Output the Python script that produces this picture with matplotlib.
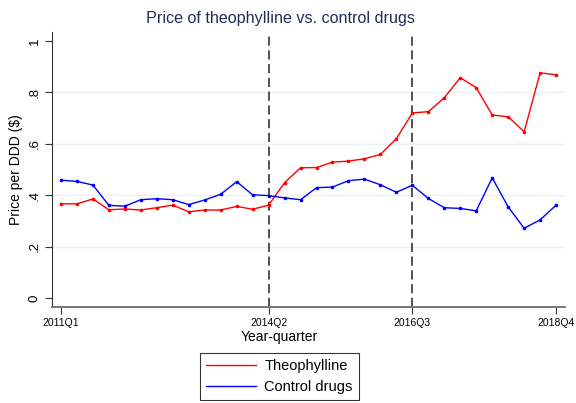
import matplotlib
matplotlib.use("Agg")
import matplotlib.pyplot as plt
from matplotlib.lines import Line2D

# quarters 2011Q1 .. 2018Q4
quarters = [f"{y}Q{q}" for y in range(2011, 2019) for q in range(1, 5)]
tick_labels = ["2011Q1", "2014Q2", "2016Q3", "2018Q4"]
policy_quarters = ["2014Q2", "2016Q3"]

theophylline = [0.367, 0.367, 0.386, 0.344, 0.347, 0.343, 0.352, 0.362,
                0.336, 0.343, 0.343, 0.357, 0.346, 0.362, 0.449, 0.507,
                0.508, 0.529, 0.533, 0.542, 0.559, 0.620, 0.720, 0.725,
                0.779, 0.857, 0.818, 0.712, 0.705, 0.647, 0.876, 0.868]
control = [0.459, 0.454, 0.440, 0.361, 0.358, 0.383, 0.387, 0.383,
           0.364, 0.382, 0.404, 0.453, 0.402, 0.399, 0.390, 0.383,
           0.430, 0.432, 0.457, 0.463, 0.441, 0.412, 0.439, 0.388,
           0.352, 0.349, 0.340, 0.468, 0.355, 0.272, 0.305, 0.362]

x = list(range(len(quarters)))

fig = plt.figure(figsize=(5.76, 4.03), dpi=100)
ax = fig.add_axes([0.0903, 0.238, 0.8907, 0.683])

for yv in [0.2, 0.4, 0.6, 0.8]:
    ax.axhline(yv, color="#eaf2f3", lw=1.0, zorder=0)

for q in policy_quarters:
    ax.axvline(quarters.index(q), color="#222222", lw=1.1,
               linestyle=(0, (6, 3)), zorder=1)

ax.plot(x, theophylline, color="#ff0000", lw=1.0, marker="o", ms=1.6, zorder=3)
ax.plot(x, control, color="#0000ff", lw=1.0, marker="o", ms=1.6, zorder=3)

ax.set_xlim(-0.56, 31.56)
ax.set_ylim(-0.034, 1.035)

ax.set_xticks([quarters.index(t) for t in tick_labels])
ax.set_xticklabels(tick_labels, fontsize=7.5, family="Liberation Sans")
yticks = [0, 0.2, 0.4, 0.6, 0.8, 1]
ax.set_yticks(yticks)
ax.set_yticklabels(["0", ".2", ".4", ".6", ".8", "1"], fontsize=9.5,
                   rotation=90, va="center", family="Liberation Sans")

ax.spines["top"].set_visible(False)
ax.spines["right"].set_visible(False)
ax.spines["left"].set_color("#333333")
ax.spines["bottom"].set_color("#777777")
ax.spines["bottom"].set_linewidth(1.4)
ax.tick_params(axis="both", length=5, width=0.8, color="#333333", pad=3)

ax.set_xlabel("Year-quarter", fontsize=10, family="Liberation Sans", labelpad=1)
ax.xaxis.label.set_x((279 - 52) / (565 - 52))
ax.set_ylabel("Price per DDD ($)", fontsize=10, family="Liberation Sans", labelpad=4)
fig.text(281 / 576, 1 - 18 / 403, "Price of theophylline vs. control drugs",
         fontsize=11.6, color="#1e2d5a", family="Liberation Sans",
         ha="center", va="center")

handles = [Line2D([], [], color="#ff0000", lw=1.0),
           Line2D([], [], color="#0000ff", lw=1.0)]
leg = fig.legend(handles, ["Theophylline", "Control drugs"],
                 loc="center", bbox_to_anchor=(279.5 / 576, 1 - 376.5 / 403),
                 frameon=True, fancybox=False, edgecolor="black",
                 handlelength=3.4, handletextpad=0.6, borderpad=0.45,
                 labelspacing=0.45,
                 prop={"family": "Liberation Sans", "size": 10.5})
leg.get_frame().set_linewidth(0.8)

fig.savefig("out.png", dpi=100)
